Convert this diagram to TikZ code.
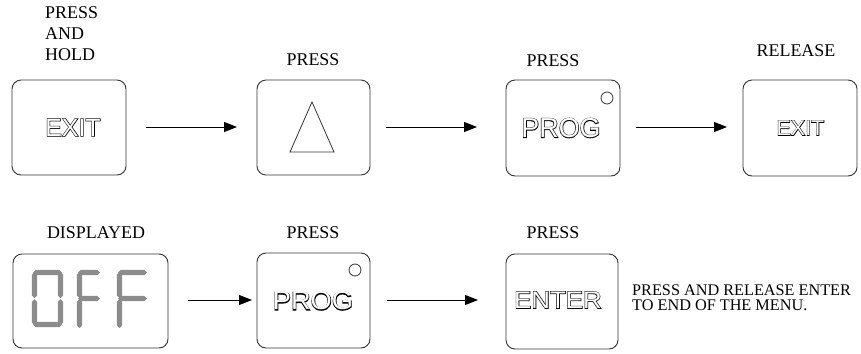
\documentclass[tikz,border=0pt]{standalone}
\usepackage{fontspec}
\setmainfont{Liberation Serif}
\newfontfamily\btnfont{Liberation Sans}
\newfontfamily\btnthick{Liberation Sans}[FakeBold=4.5]
\usetikzlibrary{arrows.meta}
\definecolor{segcol}{HTML}{8C8C8C}
\definecolor{boxcol}{HTML}{333333}
\tikzset{
  keybox/.style={draw=boxcol,line width=0.9bp,rounded corners=9bp},
  flow/.style={line width=0.9bp,-{Triangle[length=13bp,width=10bp]}},
  lab/.style={anchor=base,inner sep=0pt,font=\fontsize{18}{21}\selectfont},
  keytext/.style={inner sep=0pt},
  led/.style={draw=boxcol,line width=0.8bp},
}
% outlined key label: name, position, size, horizontal stretch, text
\newcommand\keylab[5]{%
  \node[keytext,text=black,font=\btnthick\fontsize{#3}{#3}\selectfont] (#1) at (#2) {\scalebox{#4}[1]{#5}};
  \node[keytext,text=white,font=\btnfont\fontsize{#3}{#3}\selectfont] (#1w) at (#1) {\scalebox{#4}[1]{#5}};}
% seven segment helpers
\newcommand\hseg[3]{\fill[segcol] ({#1},{#3}) -- ({#1+2.6},{#3-2.6}) -- ({#2-2.6},{#3-2.6}) -- ({#2},{#3}) -- ({#2-2.6},{#3+2.6}) -- ({#1+2.6},{#3+2.6}) -- cycle;}
\newcommand\vseg[3]{\fill[segcol] ({#1},{#2}) -- ({#1+2.6},{#2+2.6}) -- ({#1+2.6},{#3-2.6}) -- ({#1},{#3}) -- ({#1-2.6},{#3-2.6}) -- ({#1-2.6},{#2+2.6}) -- cycle;}
\begin{document}
\begin{tikzpicture}[x=1bp,y=-1bp]
\useasboundingbox (0,0) rectangle (861,353);
% ---------- row 1 ----------
\draw[keybox] (12,80) rectangle (126,175);
\keylab{k1}{73,127.5}{25}{1}{EXIT}
\coordinate (b1e) at (146,127);
\draw[keybox] (257,80) rectangle (370,175);
\draw[line width=0.8bp,draw=boxcol] (312,102) -- (290,152) -- (334,152) -- cycle;
\coordinate (b2w) at (237,127);
\coordinate (b2e) at (386,127);
\draw[keybox] (506,80) rectangle (620,176);
\keylab{k3}{561,128}{27.5}{0.98}{PROG}
\draw[led] (607,98) circle (6bp);
\coordinate (b3w) at (477,127);
\coordinate (b3e) at (636,127);
\draw[keybox] (743,80) rectangle (857,176);
\keylab{k4}{800.5,128}{21.5}{1}{EXIT}
\coordinate (b4w) at (727,127);
\draw[flow] (b1e) -- (b2w);
\draw[flow] (b2e) -- (b3w);
\draw[flow] (b3e) -- (b4w);
% labels row 1
\node[anchor=north west,inner sep=0pt,align=left,font=\fontsize{18}{21}\selectfont] (l1) at (45,6.3) {PRESS\\AND\\HOLD};
\node[lab] (l2) at (313,65) {PRESS};
\node[lab] (l3) at (553,66) {PRESS};
\node[lab] (l4) at (796,56) {RELEASE};
% ---------- row 2 ----------
\draw[keybox] (13,254) rectangle (168,348);
% digit 0
\hseg{33}{62}{272.5}
\hseg{33}{62}{324.5}
\vseg{34.5}{272}{298}
\vseg{34.5}{299}{325}
\vseg{60.5}{272}{298}
\vseg{60.5}{299}{325}
% F (narrow)
\hseg{78}{100}{272.5}
\hseg{78}{100}{298.5}
\vseg{79.5}{272}{298}
\vseg{79.5}{299}{328}
% F
\hseg{118}{147}{272.5}
\hseg{118}{147}{298.5}
\vseg{119.5}{272}{298}
\vseg{119.5}{299}{328}
\coordinate (d1e) at (188,300);
\draw[keybox] (257,253) rectangle (370,348);
\keylab{k6}{313,301}{26}{1.05}{PROG}
\draw[led] (355,270) circle (6bp);
\coordinate (d2w) at (252,300);
\coordinate (d2e) at (387,300);
\draw[keybox] (506,254) rectangle (618,349);
\keylab{k7}{558,300}{24}{1.08}{ENTER}
\coordinate (d3w) at (478,300);
\draw[flow] (d1e) -- (d2w);
\draw[flow] (d2e) -- (d3w);
% labels row 2
\node[lab] (l5) at (96,238) {DISPLAYED};
\node[lab] (l6) at (313,238) {PRESS};
\node[lab] (l7) at (553,238) {PRESS};
\node[anchor=north west,inner sep=0pt,align=left,font=\fontsize{16.3}{15}\selectfont] (note) at (632,284.5) {PRESS AND RELEASE ENTER\\TO END OF THE MENU.};
\end{tikzpicture}
\end{document}
